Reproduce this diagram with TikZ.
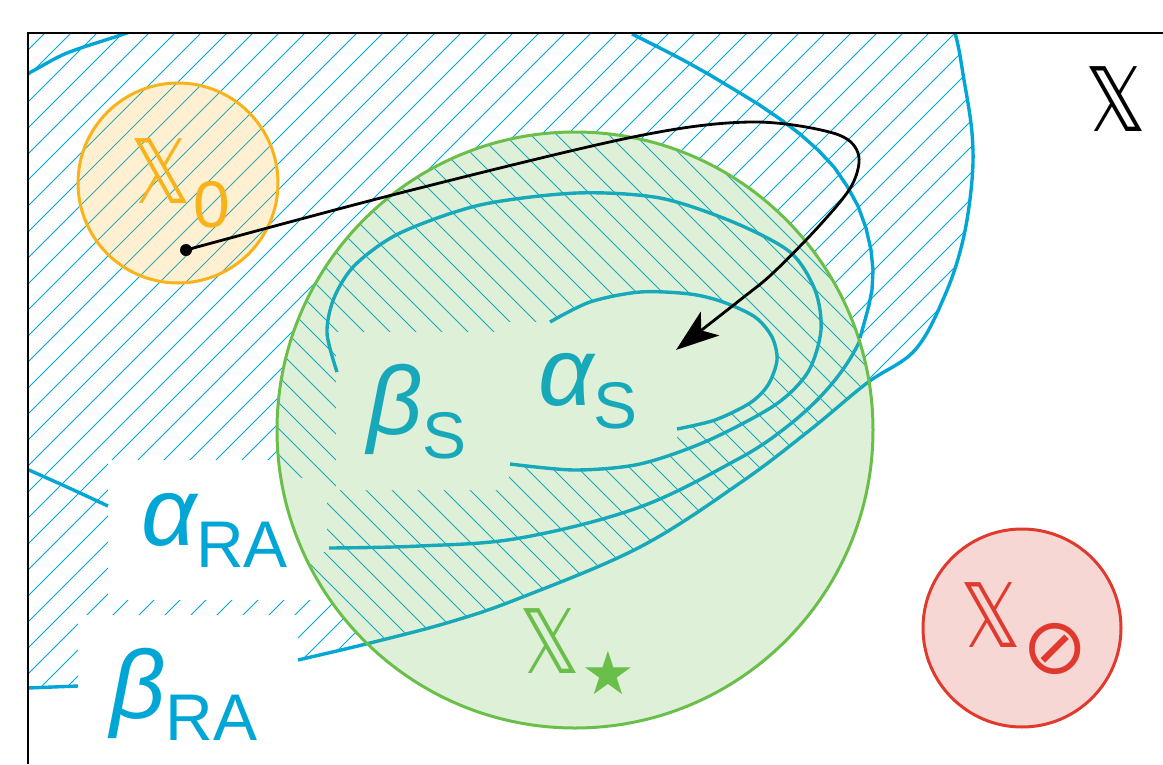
\documentclass[tikz,border=0pt]{standalone}
\usepackage{amssymb}
\usepackage{graphicx}
\usepackage{fontspec}
\setmainfont{Liberation Sans}
\newfontfamily\dejavu{DejaVu Sans}
\usetikzlibrary{arrows.meta}
\definecolor{rablue}{HTML}{00A6D6}
\definecolor{steal}{HTML}{17A9BA}
\definecolor{gstroke}{HTML}{6ABF4B}
\definecolor{gfill}{HTML}{DFF0D8}
\definecolor{ostroke}{HTML}{F9B21A}
\definecolor{rstroke}{HTML}{E03A2F}
\definecolor{rfill}{HTML}{F7D7D4}
\newcommand{\dbX}{\scalebox{0.85}[1]{\dejavu 𝕏}}
\tikzset{
 hatchA/.style={rablue, line width=0.9pt},
 hatchB/.style={steal, line width=0.9pt},
 racurve/.style={rablue, line width=3.4pt},
 scurve/.style={steal, line width=3.4pt},
 traj/.style={black, line width=2.8pt, -{Stealth[length=43pt,width=30pt,inset=11pt]}},
 lab/.style={inner sep=0pt, outer sep=0pt, anchor=base west},
 bigX/.style={font=\fontsize{89}{89}\selectfont},
}
\begin{document}
\begin{tikzpicture}[x=1pt,y=-1pt]
\useasboundingbox (0,0) rectangle (1163,764);
% ---- "/" hatching of beta_RA region
\begin{scope}
 \clip (28,33) rectangle (1163,764);
 \clip plot[smooth,tension=0.6] coordinates {(-20,690) (28,688) (78,686) (190,676) (298,660) (370,643) (450,622) (520,598) (640,547) (740,483) (810,430) (867,383) (915,350) (945,295) (963,240) (972,180) (972,133) (964,80) (955,33) (938,-10)} -- (-50,-50) -- (-50,690) -- cycle;
 \foreach \c in {0,26,...,2000} \draw[hatchA] (\c,0) -- ({\c-800},800);
\end{scope}
% label boxes
\fill[white] (108,460) rectangle (340,600);
\fill[white] (78,615) rectangle (298,770);
% X0 circle
\node (X0) [circle, draw=ostroke, fill=ostroke, fill opacity=0.2, line width=3pt, minimum size=200pt, inner sep=0pt] at (178,183) {};
% ---- RA curves
\begin{scope}
 \clip (28,33) rectangle (1163,764);
 \draw[racurve] plot[smooth,tension=0.6] coordinates {(-20,690) (28,688) (78,686)};
 \draw[racurve] plot[smooth,tension=0.6] coordinates {(298,660) (370,643) (450,622) (520,598) (640,547) (740,483) (810,430) (867,383) (915,350) (945,295) (963,240) (972,180) (972,133) (964,80) (955,33) (938,-10)};
 \draw[racurve] plot[smooth] coordinates {(-10,452) (29,470) (67,487) (108,506)};
 \draw[racurve] plot[smooth] coordinates {(-15,95) (29,73) (67,53) (127,33) (185,12)};
\end{scope}
% ---- X_star circle fill
\node (Xs) [circle, fill=gfill, minimum size=596pt, inner sep=0pt] at (575,430) {};
% "\" hatching inside green
\begin{scope}
 \clip (575,430) circle (298);
 \clip plot[smooth,tension=0.6] coordinates {(-20,690) (28,688) (78,686) (190,676) (298,660) (370,643) (450,622) (520,598) (640,547) (740,483) (810,430) (867,383) (915,350) (945,295) (963,240) (972,180) (972,133) (964,80) (955,33) (938,-10)} -- (-50,-50) -- (-50,690) -- cycle;
 \foreach \c in {-800,-774,...,1200} \draw[hatchB] (\c,0) -- ({\c+800},800);
\end{scope}
\begin{scope}
 \clip (575,430) circle (298);
 \fill[gfill] (336,332) -- (508,332) -- (508,322) -- (550,322) -- plot[smooth] coordinates {(550,322) (590,302) (640,292) (690,294) (723,302) (755,317) (772,337) (777,360) (768,385) (750,403) (715,420) (677,429)} -- (677,453) -- plot[smooth] coordinates {(677,453) (640,465) (575,470) (510,464)} -- (508,490) -- (336,490) -- cycle;
 \fill[gfill] (270,478) rectangle (327,552);
 \draw[scurve] plot[smooth,tension=0.6] coordinates {(298,660) (370,643) (450,622) (520,598) (640,547) (740,483) (810,430) (867,383) (915,350)};
 \draw[scurve] plot[smooth,tension=0.6] coordinates {(329,548) (420,546) (520,538) (640,507) (740,458) (780,432)};
 \draw[scurve] (780,432) .. controls (830,395) and (870,345) .. (873,290);
\end{scope}
% safe set curves
\draw[scurve] plot[smooth] coordinates {(337,372) (327,333) (334,298) (355,265) (400,233) (480,205) (577,193) (660,198) (733,222) (790,252) (815,290) (821,330) (808,372) (775,405) (707,441) (640,464) (575,470) (510,464)};
\draw[scurve] plot[smooth] coordinates {(550,322) (590,302) (640,292) (690,294) (723,302) (755,317) (772,337) (777,360) (768,385) (750,403) (715,420) (677,429)};
\draw[gstroke, line width=3pt] (Xs.center) circle (298);
% alpha_RA upper arc, outside the green disc
\draw[draw=rablue, line width=3.4pt, line join=round] (860,338) -- (865,320) -- (869,305) -- (872,290) -- (873,270) -- (871,250) -- (866,228) -- (858,206) -- (847,186) -- (834,167) -- (818,150) -- (800,134) -- (780,119) -- (758,104) -- (735,90) -- (710,75) -- (685,61) -- (660,48) -- (632,34);
% unsafe set
\node (Xn) [circle, draw=rstroke, fill=rfill, line width=3pt, minimum size=198pt, inner sep=0pt] at (1022,628) {};
% frame
\draw[line width=2pt] (28,764) -- (28,33) -- (1163,33);
% labels
\node[lab, bigX, text=black] (lX) at (1085,131) {\dbX};
\node[lab, bigX, text=ostroke] (lX0) at (130,203) {\dbX\kern3pt\raisebox{-24pt}{\fontsize{66}{66}\selectfont 0}};
\node[lab, text=rablue] (laRA) at (141,545) {{\fontsize{97}{97}\selectfont\itshape α}\raisebox{-22pt}{\fontsize{66}{66}\selectfont RA}};
\node[lab, text=rablue] (lbRA) at (110,718) {{\fontsize{97}{97}\selectfont\itshape β}\raisebox{-22pt}{\fontsize{66}{66}\selectfont RA}};
\node[lab, text=steal] (lbS) at (367,434) {{\fontsize{97}{97}\selectfont\itshape β}\raisebox{-24pt}{\fontsize{66}{66}\selectfont S}};
\node[lab, text=steal] (laS) at (538,405) {{\fontsize{97}{97}\selectfont\itshape α}\raisebox{-23pt}{\fontsize{66}{66}\selectfont S}};
\node[lab, bigX, text=gstroke] (lXs) at (519,673) {\dbX\kern2pt\raisebox{-21pt}{\dejavu\fontsize{60}{60}\selectfont ★}};
\node[lab, bigX, text=rstroke] (lXn) at (960,647) {\dbX\kern2pt\raisebox{-26pt}{\dejavu\fontsize{78}{78}\selectfont ⊘}};
% trajectory
\node (x0pt) [circle, fill=black, inner sep=0pt, minimum size=12pt] at (186,250) {};
\coordinate (tip) at (676,350);
\draw[traj] plot[smooth,tension=0.55] coordinates {(x0pt.center) (400,193) (633,137) (750,122) (833,133) (858,153) (852,185) (820,225) (773,273) (740,300) (tip)};
\end{tikzpicture}
\end{document}
